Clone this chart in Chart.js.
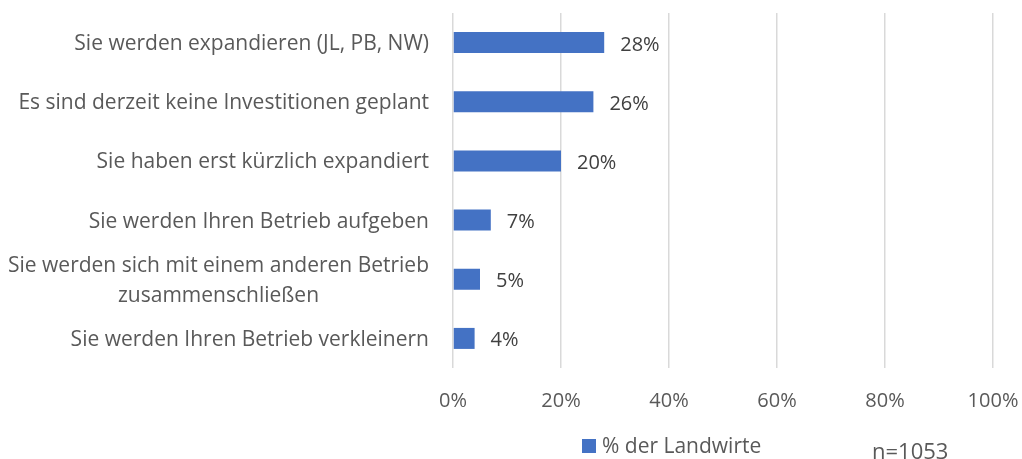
<!DOCTYPE html>
<html>
<head>
<meta charset="utf-8">
<script src="https://cdn.jsdelivr.net/npm/chart.js@4/dist/chart.umd.min.js"></script>
<style>
  html, body { margin: 0; padding: 0; background: #fff; }
  #wrap { width: 1022px; height: 459px; }
</style>
</head>
<body>
<div id="wrap"><canvas id="chart"></canvas></div>
<script>
const categories = [
  ["Sie werden expandieren (JL, PB, NW)"],
  ["Es sind derzeit keine Investitionen geplant"],
  ["Sie haben erst kürzlich expandiert"],
  ["Sie werden Ihren Betrieb aufgeben"],
  ["Sie werden sich mit einem anderen Betrieb", "zusammenschließen"],
  ["Sie werden Ihren Betrieb verkleinern"],
];
const values = [28, 26, 20, 7, 5, 4];
const seriesLabel = "% der Landwirte";
const xTicks = [0, 20, 40, 60, 80, 100];
const sampleNote = "n=1053";

const FONT = "'Open Sans', 'Noto Sans', sans-serif";
const TEXT = "#595959";
const BLUE = "#4472C4";

// y labels: right aligned block, lines centred inside it
const yLabelPlugin = {
  id: "yLabels",
  afterDraw(chart) {
    const { ctx } = chart;
    const y = chart.scales.y;
    ctx.save();
    ctx.font = "21px " + FONT;
    ctx.fillStyle = TEXT;
    ctx.textBaseline = "alphabetic";
    ctx.textAlign = "center";
    const right = chart.chartArea.left - 24;
    const lh = 30;
    categories.forEach((lines, i) => {
      const maxW = Math.max(...lines.map((l) => ctx.measureText(l).width));
      const cx = right - maxW / 2;
      const cy = y.getPixelForTick(i);
      const first = cy + 7.5 - ((lines.length - 1) * lh) / 2;
      lines.forEach((l, j) => ctx.fillText(l, cx, first + j * lh));
    });
    ctx.restore();
  },
};

// value labels at bar ends, legend and n note
const extrasPlugin = {
  id: "extras",
  afterDatasetsDraw(chart) {
    const { ctx } = chart;
    const meta = chart.getDatasetMeta(0);
    ctx.save();
    ctx.font = "20px " + FONT;
    ctx.fillStyle = "#404040";
    ctx.textBaseline = "alphabetic";
    ctx.textAlign = "left";
    meta.data.forEach((bar, i) => {
      ctx.fillText(values[i] + "%", bar.x + 16, bar.y + 8);
    });

    // legend
    ctx.fillStyle = BLUE;
    ctx.fillRect(582, 439, 14, 14);
    ctx.fillStyle = TEXT;
    ctx.font = "21px " + FONT;
    ctx.fillText(seriesLabel, 602, 453);

    ctx.font = "22px " + FONT;
    ctx.fillText(sampleNote, 872, 459);
    ctx.restore();
  },
};

new Chart(document.getElementById("chart"), {
  type: "bar",
  data: {
    labels: categories,
    datasets: [
      {
        label: seriesLabel,
        data: values,
        backgroundColor: BLUE,
        categoryPercentage: 1,
        barPercentage: 0.355,
      },
    ],
  },
  plugins: [yLabelPlugin, extrasPlugin],
  options: {
    indexAxis: "y",
    responsive: true,
    maintainAspectRatio: false,
    animation: false,
    layout: { padding: { top: 13, right: 29, left: 0, bottom: 0 } },
    plugins: {
      legend: { display: false },
      tooltip: { enabled: false },
    },
    scales: {
      x: {
        min: 0,
        max: 100,
        afterBuildTicks(scale) {
          scale.ticks = xTicks.map((v) => ({ value: v }));
        },
        afterFit(scale) {
          scale.height = 91;
          scale.paddingRight = 0;
          scale.paddingLeft = 0;
        },
        grid: { color: "#d9d9d9", lineWidth: 1.5, drawTicks: false },
        border: { display: false },
        ticks: {
          padding: 21,
          color: TEXT,
          font: { family: FONT, size: 20 },
          callback: (v) => v + "%",
        },
      },
      y: {
        afterFit(scale) {
          scale.width = 453;
        },
        grid: { display: false },
        border: { display: false },
        ticks: { display: false },
      },
    },
  },
});
</script>
</body>
</html>
